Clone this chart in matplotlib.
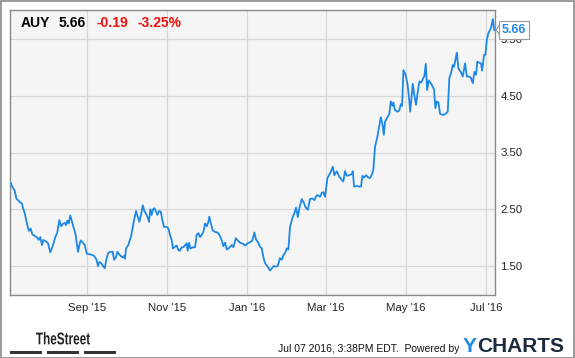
import numpy as np
import pandas as pd
import matplotlib
matplotlib.use("Agg")
import matplotlib.pyplot as plt
import matplotlib.dates as mdates
from matplotlib.patches import Rectangle, Polygon, PathPatch
from matplotlib.textpath import TextPath
from matplotlib.font_manager import FontProperties
from matplotlib.transforms import Affine2D

plt.rcParams['font.family'] = ['Liberation Sans', 'DejaVu Sans']

# --- data (days after 2015-07-05, price in USD) ---
start_date = pd.Timestamp("2015-07-05")
day_offset = [0.3, 2.1, 3.3, 4.6, 7.1, 8.9, 9.7, 11.0, 12.9, 14.2, 15.5, 16.7, 18.6, 20.1, 21.6,
              22.8, 24.1, 25.1, 27.4, 28.7, 30.4, 32.5, 34.2, 35.7, 37.3, 38.6, 39.8, 41.4, 42.4,
              43.3, 44.4, 45.6, 46.9, 48.4, 49.7, 50.5, 51.5, 52.5, 53.5, 55.3, 56.6, 58.1, 59.6,
              61.6, 63.7, 65.4, 66.7, 67.7, 69.2, 70.5, 71.8, 73.0, 74.3, 75.6, 77.9, 78.9, 80.4,
              81.4, 83.4, 85.2, 86.5, 87.2, 88.0, 89.7, 91.0, 91.8, 93.1, 94.1, 95.6, 96.9, 98.1,
              99.4, 100.7, 101.9, 103.2, 104.2, 105.5, 106.5, 107.5, 108.3, 109.5, 110.8, 111.8,
              113.1, 114.4, 115.6, 116.9, 118.9, 120.2, 121.4, 123.0, 123.5, 125.2, 126.5, 127.8,
              129.0, 130.3, 131.6, 132.9, 134.1, 134.9, 135.9, 136.9, 138.7, 140.5, 141.7, 143.0,
              144.3, 145.6, 146.8, 148.1, 149.4, 150.6, 151.3, 152.6, 153.9, 155.7, 157.7, 159.5,
              160.8, 162.0, 163.3, 164.6, 166.3, 168.4, 169.6, 171.4, 172.9, 174.7, 177.2, 178.5,
              180.5, 182.3, 184.0, 185.6, 186.8, 188.6, 189.9, 191.2, 192.4, 193.7, 195.7, 197.5,
              198.8, 200.3, 201.8, 203.3, 205.1, 206.4, 207.6, 208.9, 210.2, 211.4, 212.7, 214.4,
              216.0, 217.3, 218.6, 219.8, 221.6, 223.1, 224.6, 226.2, 227.9, 229.7, 231.2, 232.5,
              233.8, 235.5, 236.8, 238.0, 239.3, 241.1, 243.1, 245.2, 246.4, 248.2, 250.2, 252.0,
              253.2, 254.5, 255.8, 257.8, 259.6, 260.4, 261.4, 263.4, 265.4, 266.7, 267.7, 269.0,
              270.5, 272.2, 273.5, 275.1, 276.0, 277.3, 279.1, 280.4, 281.7, 282.9, 284.0, 284.9,
              286.7, 288.2, 289.3, 290.5, 291.3, 292.5, 294.3, 295.8, 296.9, 297.9, 298.9, 300.4,
              301.9, 303.0, 304.0, 304.9, 306.0, 307.2, 308.5, 309.8, 311.0, 312.3, 313.6, 314.8,
              315.9, 316.9, 318.2, 319.7, 321.2, 322.2, 323.2, 324.3, 325.5, 326.8, 329.3, 331.3,
              332.6, 333.8, 335.4, 336.4, 337.4, 339.5, 340.7, 342.5, 344.0, 345.8, 347.1, 348.3,
              350.1, 351.6, 352.9, 354.1, 355.1, 356.7, 357.9, 358.7, 360.2, 361.2, 362.3, 363.5,
              365.4, 366.9, 367.9]
price = [2.96, 2.87, 2.83, 2.69, 2.63, 2.60, 2.52, 2.43, 2.22, 2.12, 2.16, 2.06, 2.03, 2.01, 1.96,
         2.01, 1.87, 1.96, 1.93, 1.90, 1.74, 1.87, 2.01, 2.09, 2.31, 2.20, 2.24, 2.26, 2.22,
         2.30, 2.25, 2.39, 2.28, 2.16, 2.05, 1.90, 1.75, 1.87, 1.95, 1.91, 1.87, 1.72, 1.71,
         1.70, 1.68, 1.62, 1.50, 1.57, 1.55, 1.50, 1.46, 1.61, 1.72, 1.75, 1.75, 1.61, 1.66,
         1.75, 1.69, 1.65, 1.68, 1.63, 1.81, 1.87, 1.96, 2.02, 2.19, 2.31, 2.47, 2.37, 2.28,
         2.40, 2.57, 2.47, 2.42, 2.37, 2.28, 2.50, 2.40, 2.49, 2.52, 2.46, 2.40,
         2.47, 2.46, 2.31, 2.19, 2.19, 2.16, 2.05, 1.93, 1.81, 1.84, 1.86, 1.78,
         1.77, 1.83, 1.83, 1.87, 1.90, 1.77, 1.91, 1.81, 1.83, 1.83, 2.05, 2.08,
         2.01, 2.05, 2.10, 2.25, 2.20, 2.28, 2.37, 2.24, 2.13, 2.10, 2.09, 2.03,
         1.95, 1.85, 1.91, 1.79, 1.82, 1.87, 1.83, 1.99, 1.95, 1.91, 1.89, 1.86,
         1.90, 1.92, 1.95, 2.09, 1.97, 1.91, 1.84, 1.81, 1.66, 1.55, 1.49, 1.42,
         1.46, 1.50, 1.49, 1.50, 1.64, 1.61, 1.69, 1.73, 1.81, 1.79, 2.19, 2.34,
         2.43, 2.53, 2.36, 2.52, 2.68, 2.62, 2.53, 2.49, 2.68, 2.69, 2.66, 2.73,
         2.75, 2.72, 2.79, 2.80, 2.72, 3.05, 3.13, 3.25, 3.10, 3.17, 3.07, 3.02,
         2.99, 3.17, 3.09, 3.10, 3.12, 3.17, 2.90, 2.91, 2.90, 2.90, 3.09, 3.06,
         3.10, 3.06, 3.05, 3.12, 3.19, 3.60, 3.78, 3.95, 4.12, 4.01, 3.81, 4.04,
         4.12, 4.18, 4.40, 4.32, 4.38, 4.25, 4.22, 4.24, 4.35, 4.32, 4.95, 4.88,
         4.72, 4.51, 4.22, 4.43, 4.71, 4.51, 4.34, 4.57, 4.75, 4.73, 4.79, 4.85,
         5.06, 4.60, 4.77, 4.72, 4.66, 4.61, 4.28, 4.40, 4.38, 4.18, 4.16, 4.19,
         4.22, 4.81, 4.92, 5.04, 5.01, 5.26, 4.98, 4.92, 4.84, 5.07, 4.84, 4.84,
         4.82, 4.72, 4.92, 4.87, 5.10, 5.08, 5.07, 4.94, 5.22, 5.22, 5.48, 5.60,
         5.69, 5.85, 5.66]

ticker = "AUY"
last_price = "5.66"
change = "-0.19"
change_pct = "-3.25%"
y_ticks = [1.5, 2.5, 3.5, 4.5, 5.5]
x_ticks = ["2015-09-01", "2015-11-01", "2016-01-01", "2016-03-01", "2016-05-01", "2016-07-01"]
stamp = "Jul 07 2016, 3:38PM EDT.  Powered by"

dates = start_date + pd.to_timedelta(day_offset, unit="D")

W, H = 575, 358
fig = plt.figure(figsize=(W / 100, H / 100), dpi=100)
fig.patch.set_facecolor("white")
px = Affine2D().scale(1 / W, 1 / H) + fig.transFigure  # pixel (from bottom-left) -> figure

ax = fig.add_axes([10.3 / W, 1 - 295 / H, (494.7 - 10.3) / W, (295 - 10) / H])
ax.set_facecolor("#f5f5f5")
ax.plot(dates, price, color="#1e88e5", lw=1.3, solid_joinstyle="round", zorder=3)

ax.set_xlim(start_date, start_date + pd.Timedelta(days=368.3))
ax.set_ylim(0.99, 6.01)

ax.set_yticks(y_ticks)
ax.yaxis.set_major_formatter(matplotlib.ticker.FormatStrFormatter("%.2f"))
ax.yaxis.tick_right()
ax.set_xticks(pd.to_datetime(x_ticks))
ax.xaxis.set_major_formatter(mdates.DateFormatter("%b '%y"))
ax.tick_params(length=0, labelsize=8.2, colors="#222222")
ax.tick_params(axis="y", pad=4)
ax.tick_params(axis="x", pad=6)
ax.grid(True, color="#d8d8d8", lw=0.9)
ax.set_axisbelow(True)
for s in ax.spines.values():
    s.set_color("#8a8a8a")
    s.set_linewidth(1.0)

# header
hy = 1 - 23 / H
fig.text(21 / W, hy, ticker, fontsize=10, fontweight="bold", color="black", va="center")
fig.text(59 / W, hy, last_price, fontsize=10, fontweight="bold", color="black", va="center")
fig.text(96 / W, hy, change, fontsize=10, fontweight="bold", color="#ee1111", va="center")
fig.text(137 / W, hy, change_pct, fontsize=10, fontweight="bold", color="#ee1111", va="center")

# last value tag
xd, yd = ax.transData.transform((mdates.date2num(dates[-1]), price[-1]))
xf, yf = xd / W, yd / H
bx0 = 499 / W
fig.text(bx0 + 2.5 / W, yf, last_price, fontsize=8.8, fontweight="bold", color="#1e88e5",
         va="center", ha="left",
         bbox=dict(boxstyle="square,pad=0.22", fc="white", ec="#999999", lw=0.8))
fig.patches.append(Polygon([[xf + 2 / W, yf], [bx0 + 0.5 / W, yf + 5 / H], [bx0 + 0.5 / W, yf - 5 / H]],
                           closed=True, transform=fig.transFigure, fc="white", ec="#999999", lw=0.8,
                           zorder=5))

# footer: condensed "TheStreet" logo
tp = TextPath((0, 0), "TheStreet", size=20,
              prop=FontProperties(family="Liberation Sans", weight="bold"))
ext = tp.get_extents()
logo_tf = (Affine2D().translate(-ext.x0, -ext.y0)
           .scale(54 / ext.width, 12.5 / ext.height)
           .translate(36, H - 344.5))
fig.patches.append(PathPatch(logo_tf.transform_path(tp), transform=px, fc="#222222", ec="none"))
for x0, x1 in [(10.3, 42.2), (47, 79), (83.6, 115.5)]:
    fig.patches.append(Rectangle((x0, H - 353.5), x1 - x0, 3, transform=px,
                                 fc="#333333", ec="none"))
fig.text(459 / W, 1 - 349 / H, stamp, fontsize=7.5, color="#111111", ha="right", va="center")
fig.text(463 / W, 1 - 346 / H, "Y", fontsize=15, fontweight="bold", color="#1a8ae0",
         ha="left", va="center")
fig.text(477 / W, 1 - 346 / H, "CHARTS", fontsize=15, fontweight="bold", color="#1c2b3d",
         ha="left", va="center")

# outer frame
fig.patches.append(Rectangle((0.5, 0.5), W - 1.5, H - 1.5, transform=px,
                             fc="none", ec="#8a8a8a", lw=1.2))

fig.savefig("out.png", dpi=100)
